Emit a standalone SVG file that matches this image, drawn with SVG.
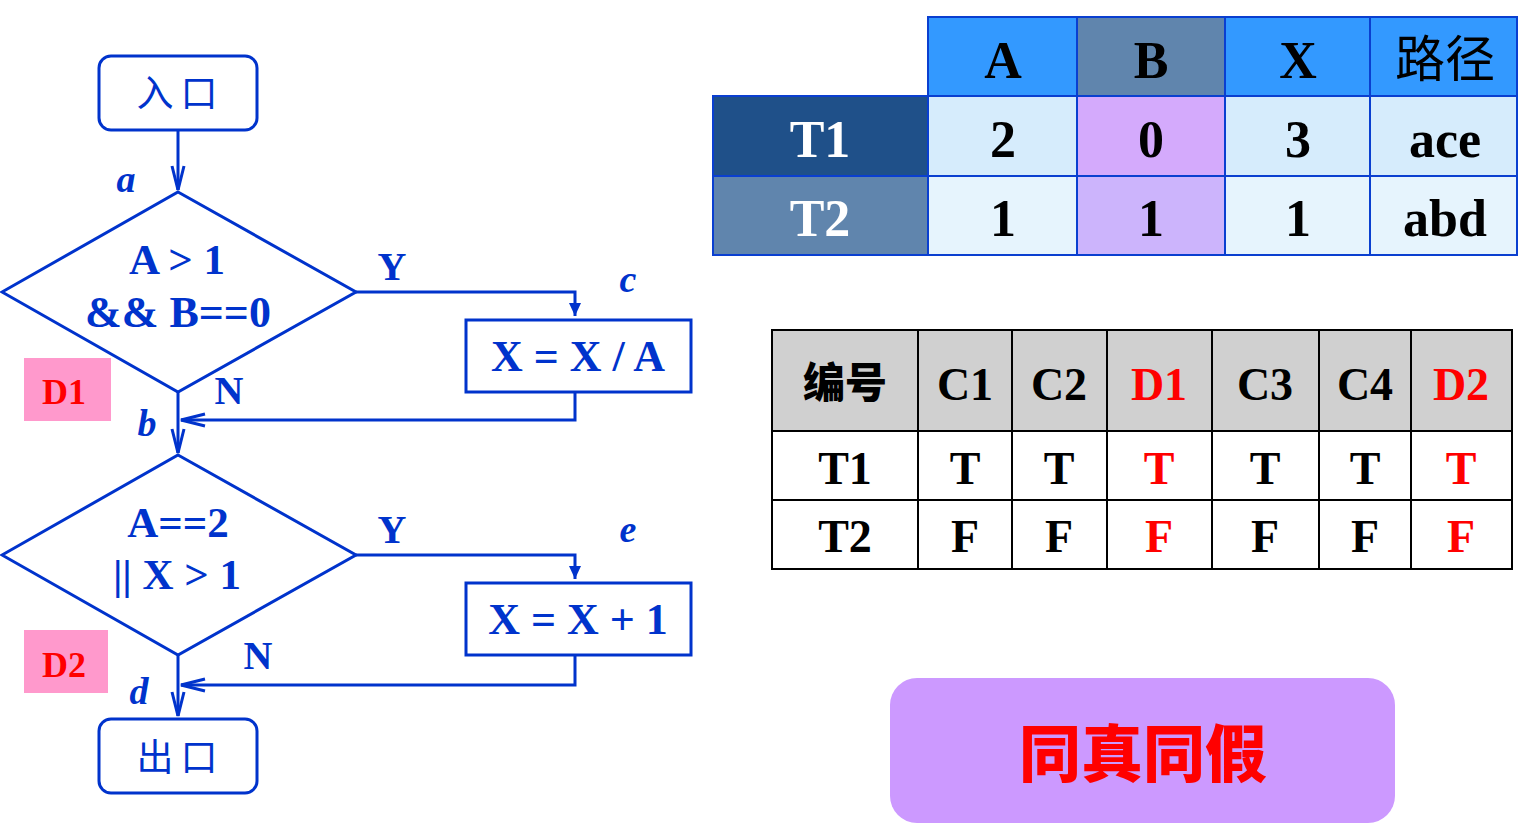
<svg xmlns="http://www.w3.org/2000/svg" width="1522" height="838" viewBox="0 0 1522 838">
<style>
.fl{fill:none;stroke:#0033CC;stroke-width:3}
.bt{font-family:"Liberation Serif","Times New Roman",serif;font-weight:bold;fill:#0033CC;text-anchor:middle}
.it{font-family:"Liberation Serif","Times New Roman",serif;font-weight:bold;font-style:italic;fill:#0033CC;font-size:38px;text-anchor:middle}
.cj{font-family:"Noto Sans CJK SC",sans-serif;fill:#0033CC;font-size:37px;text-anchor:middle}
.tg{font-family:"Liberation Serif","Times New Roman",serif;font-weight:bold;fill:#FF0000;font-size:36px;text-anchor:middle}
.t1{stroke:#0A3FD0;stroke-width:2}
.tt{font-family:"Liberation Serif","Times New Roman",serif;font-weight:bold;font-size:52px;text-anchor:middle;fill:#000}
.t2{fill:#fff;stroke:#000;stroke-width:2}
.ts{font-family:"Liberation Serif","Times New Roman",serif;font-weight:bold;font-size:46px;text-anchor:middle;fill:#000}
.red{fill:#FF0000}
</style>
<defs>
<marker id="open" markerUnits="userSpaceOnUse" markerWidth="30" markerHeight="16" viewBox="0 0 30 16" refX="26" refY="8" orient="auto">
<path d="M2,2 L26,8 L2,14" fill="none" stroke="#0033CC" stroke-width="3"/>
</marker>
<marker id="fill" markerUnits="userSpaceOnUse" markerWidth="14" markerHeight="14" viewBox="0 0 14 14" refX="13" refY="7" orient="auto">
<path d="M0,1 L13,7 L0,13 Z" fill="#0033CC"/>
</marker>
</defs>
<rect width="1522" height="838" fill="#fff"/>

<g id="connectors">
<path class="fl" d="M178,130 V190" marker-end="url(#open)"/>
<path class="fl" d="M356,292 H575 V316" marker-end="url(#fill)"/>
<path class="fl" d="M575,392 V420 H181" marker-end="url(#open)"/>
<path class="fl" d="M178,392 V453" marker-end="url(#open)"/>
<path class="fl" d="M356,555 H575 V579" marker-end="url(#fill)"/>
<path class="fl" d="M575,655 V685 H181" marker-end="url(#open)"/>
<path class="fl" d="M178,655 V716" marker-end="url(#open)"/>
<text class="bt" x="392" y="280" font-size="40">Y</text>
<text class="bt" x="229" y="404" font-size="40">N</text>
<text class="bt" x="392" y="543" font-size="40">Y</text>
<text class="bt" x="258" y="669" font-size="40">N</text>
<text class="it" x="126" y="192">a</text>
<text class="it" x="628" y="292">c</text>
<text class="it" x="147" y="436">b</text>
<text class="it" x="628" y="542">e</text>
<text class="it" x="139" y="704">d</text>
</g>

<g id="entry">
<rect class="fl" x="99" y="56" width="158" height="74" rx="12"/>
<text class="cj" x="155 199" y="107">入口</text>
</g>

<g id="d1">
<polygon class="fl" points="178,192 356,292 178,392 2,292"/>
<text class="bt" x="177" y="274" font-size="43">A &gt; 1</text>
<text class="bt" x="178" y="327" font-size="44">&amp;&amp; B==0</text>
</g>
<g id="d1tag">
<rect x="24" y="358" width="87" height="63" fill="#FF99CC"/>
<text class="tg" x="64" y="404">D1</text>
</g>

<g id="c">
<rect class="fl" x="466" y="320" width="225" height="72"/>
<text class="bt" x="578" y="371" font-size="44">X = X / A</text>
</g>

<g id="d2">
<polygon class="fl" points="178,455 356,555 178,655 2,555"/>
<text class="bt" x="178" y="537" font-size="43">A==2</text>
<text class="bt" x="177" y="589" font-size="43">|| X &gt; 1</text>
</g>
<g id="d2tag">
<rect x="24" y="630" width="84" height="63" fill="#FF99CC"/>
<text class="tg" x="64" y="677">D2</text>
</g>

<g id="e">
<rect class="fl" x="466" y="583" width="225" height="72"/>
<text class="bt" x="578" y="634" font-size="44">X = X + 1</text>
</g>

<g id="exit">
<rect class="fl" x="99" y="719" width="158" height="74" rx="12"/>
<text class="cj" x="155 199" y="771">出口</text>
</g>

<g id="table1">
<rect class="t1" x="928" y="17" width="149" height="79" fill="#3399FF"/>
<rect class="t1" x="1077" y="17" width="148" height="79" fill="#6085AD"/>
<rect class="t1" x="1225" y="17" width="145" height="79" fill="#3399FF"/>
<rect class="t1" x="1370" y="17" width="147" height="79" fill="#3399FF"/>
<rect class="t1" x="713" y="96" width="215" height="80" fill="#1F5089"/>
<rect class="t1" x="928" y="96" width="149" height="80" fill="#D6ECFC"/>
<rect class="t1" x="1077" y="96" width="148" height="80" fill="#D4AAFC"/>
<rect class="t1" x="1225" y="96" width="145" height="80" fill="#D6ECFC"/>
<rect class="t1" x="1370" y="96" width="147" height="80" fill="#D6ECFC"/>
<rect class="t1" x="713" y="176" width="215" height="79" fill="#6085AD"/>
<rect class="t1" x="928" y="176" width="149" height="79" fill="#E6F4FD"/>
<rect class="t1" x="1077" y="176" width="148" height="79" fill="#CCB4FC"/>
<rect class="t1" x="1225" y="176" width="145" height="79" fill="#E6F4FD"/>
<rect class="t1" x="1370" y="176" width="147" height="79" fill="#E6F4FD"/>
<text class="tt" x="1003" y="78">A</text>
<text class="tt" x="1151" y="78">B</text>
<text class="tt" x="1298" y="78">X</text>
<text x="1445" y="77" font-family="Noto Sans CJK SC, sans-serif" font-size="50" text-anchor="middle" fill="#000">路径</text>
<text class="tt" x="820" y="157" style="fill:#fff">T1</text>
<text class="tt" x="1003" y="157">2</text>
<text class="tt" x="1151" y="157">0</text>
<text class="tt" x="1298" y="157">3</text>
<text class="tt" x="1445" y="157">ace</text>
<text class="tt" x="820" y="236" style="fill:#fff">T2</text>
<text class="tt" x="1003" y="236">1</text>
<text class="tt" x="1151" y="236">1</text>
<text class="tt" x="1298" y="236">1</text>
<text class="tt" x="1445" y="236">abd</text>
</g>

<g id="table2">
<rect class="t2" x="772" y="330" width="740" height="101" style="fill:#D0D0D0"/>
<rect class="t2" x="772" y="431" width="740" height="138"/>
<path d="M772,500 H1512 M918,330 V569 M1012,330 V569 M1107,330 V569 M1212,330 V569 M1319,330 V569 M1411,330 V569" stroke="#000" stroke-width="2" fill="none"/>
<text x="845" y="398" font-family="Noto Sans CJK SC, sans-serif" font-weight="900" font-size="42" text-anchor="middle" fill="#000">编号</text>
<text class="ts" x="965" y="400">C1</text>
<text class="ts" x="1059" y="400">C2</text>
<text class="ts red" x="1159" y="400">D1</text>
<text class="ts" x="1265" y="400">C3</text>
<text class="ts" x="1365" y="400">C4</text>
<text class="ts red" x="1461" y="400">D2</text>
<text class="ts" x="845" y="484">T1</text>
<text class="ts" x="965" y="484">T</text>
<text class="ts" x="1059" y="484">T</text>
<text class="ts red" x="1159" y="484">T</text>
<text class="ts" x="1265" y="484">T</text>
<text class="ts" x="1365" y="484">T</text>
<text class="ts red" x="1461" y="484">T</text>
<text class="ts" x="845" y="552">T2</text>
<text class="ts" x="965" y="552">F</text>
<text class="ts" x="1059" y="552">F</text>
<text class="ts red" x="1159" y="552">F</text>
<text class="ts" x="1265" y="552">F</text>
<text class="ts" x="1365" y="552">F</text>
<text class="ts red" x="1461" y="552">F</text>
</g>

<g id="button">
<rect x="890" y="678" width="505" height="145" rx="27" fill="#CC99FF"/>
<text x="1143" y="777" font-family="Noto Sans CJK SC, sans-serif" font-weight="900" font-size="62" text-anchor="middle" fill="#FF0000">同真同假</text>
</g>
</svg>
